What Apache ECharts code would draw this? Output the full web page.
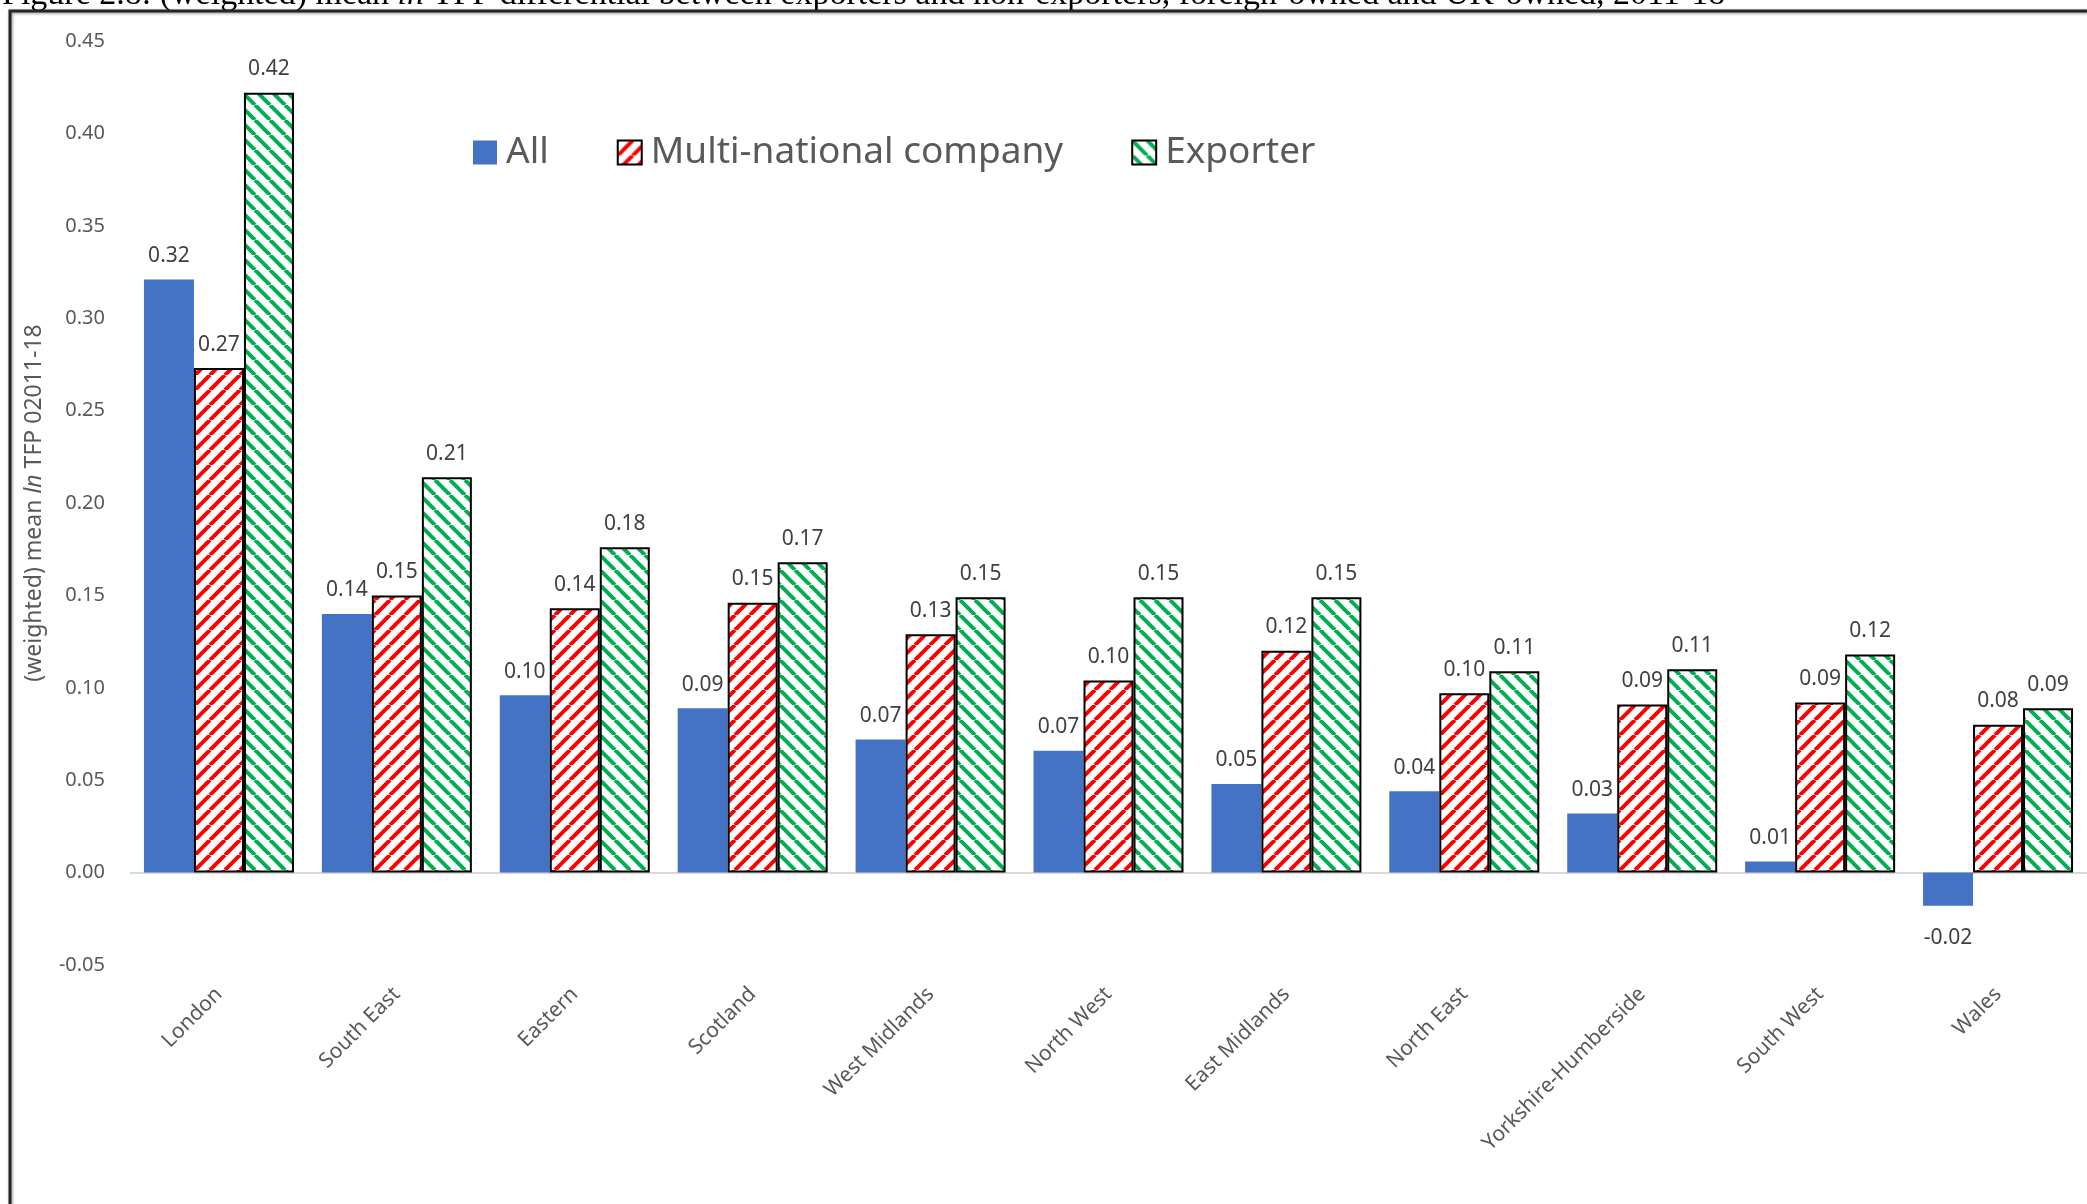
<!DOCTYPE html>
<html>
<head>
<meta charset="utf-8">
<title>Regional TFP differential</title>
<script src="https://cdn.jsdelivr.net/npm/echarts@6/dist/echarts.min.js"></script>
<style>
  html, body { margin: 0; padding: 0; background: #ffffff; }
  #chart { width: 2087px; height: 1204px; }
</style>
</head>
<body>
<div id="chart"></div>
<script>
// Regions, ordered by the size of the "All" differential
const categories = ['London', 'South East', 'Eastern', 'Scotland', 'West Midlands', 'North West',
  'East Midlands', 'North East', 'Yorkshire-Humberside', 'South West', 'Wales'];

// (weighted) mean ln TFP differential, 2011-18
const allFirms      = [0.321, 0.140, 0.096, 0.089, 0.072, 0.066, 0.048, 0.044, 0.032, 0.006, -0.018];
const multinational = [0.273, 0.150, 0.143, 0.146, 0.129, 0.104, 0.120, 0.097, 0.091, 0.092, 0.080];
const exporter      = [0.422, 0.214, 0.176, 0.168, 0.149, 0.149, 0.149, 0.109, 0.110, 0.118, 0.089];

const seriesNames = ['All', 'Multi-national company', 'Exporter'];

// y-axis scale
const yMin = -0.05;
const yMax = 0.45;
const yStep = 0.05;

const FONT = '"Noto Sans", "Open Sans", sans-serif';
const SERIF = '"Liberation Serif", "DejaVu Serif", serif';
const GREY = '#595959';
const LABEL_GREY = '#404040';

// Diagonal hatch tile: '/' rises to the right, '\' falls to the right
function hatch(color, rising) {
  const s = 15;
  const c = document.createElement('canvas');
  c.width = s; c.height = s;
  const g = c.getContext('2d');
  g.fillStyle = '#ffffff';
  g.fillRect(0, 0, s, s);
  g.strokeStyle = color;
  g.lineWidth = 4;
  g.beginPath();
  for (let k = -1; k <= 1; k++) {
    if (rising) {
      g.moveTo(k * s, s); g.lineTo(k * s + s, 0);
    } else {
      g.moveTo(k * s, 0); g.lineTo(k * s + s, s);
    }
  }
  g.stroke();
  return { image: c, repeat: 'repeat' };
}

const redHatch = hatch('#ff0000', true);
const greenHatch = hatch('#00b050', false);

const valueLabel = {
  show: true,
  position: 'outside',
  distance: 13,
  fontFamily: FONT,
  fontSize: 21,
  color: LABEL_GREY,
  formatter: p => p.value.toFixed(2)
};

// Negative bars carry their value label a little further below the bar end
function withLabelOffsets(values) {
  return values.map(v => (v < 0 ? { value: v, label: { distance: 22 } } : v));
}

const chart = echarts.init(document.getElementById('chart'), null, { renderer: 'canvas' });

chart.setOption({
  backgroundColor: '#ffffff',
  animation: false,
  textStyle: { fontFamily: FONT },
  graphic: [
    {
      type: 'text',
      left: 2,
      top: -22,
      silent: true,
      style: {
        text: '{r|Figure 2.8: (weighted) mean }{i|ln}{r| TFP differential between exporters and non-exporters, foreign-owned and UK-owned, 2011-18}',
        rich: {
          r: { fontFamily: SERIF, fontSize: 34, fill: '#000' },
          i: { fontFamily: SERIF, fontSize: 34, fontStyle: 'italic', fill: '#000' }
        }
      }
    },
    {
      type: 'polyline',
      silent: true,
      shape: { points: [[10, 1204], [10, 11], [2087, 11]] },
      style: {
        stroke: '#262626',
        lineWidth: 3,
        fill: null,
        shadowBlur: 3,
        shadowColor: 'rgba(0,0,0,0.45)',
        shadowOffsetX: 1,
        shadowOffsetY: 1
      }
    }
  ],
  legend: {
    left: 468,
    top: 129,
    icon: 'rect',
    itemWidth: 24,
    itemHeight: 24,
    itemGap: 68,
    textStyle: { fontFamily: FONT, fontSize: 37, color: GREY, padding: [0, 0, 0, 4] },
    data: seriesNames
  },
  grid: {
    left: 130,
    right: 0,
    top: 41,
    bottom: 239,
    containLabel: false
  },
  xAxis: {
    type: 'category',
    data: categories,
    axisLine: { show: false },
    axisTick: { show: false },
    axisLabel: {
      interval: 0,
      rotate: 45,
      margin: 26,
      fontFamily: FONT,
      fontSize: 21,
      color: GREY
    }
  },
  yAxis: {
    type: 'value',
    min: yMin,
    max: yMax,
    interval: yStep,
    axisLine: { show: false },
    axisTick: { show: false },
    splitLine: { show: false },
    axisLabel: {
      margin: 25,
      fontFamily: FONT,
      fontSize: 20,
      color: GREY,
      formatter: v => v.toFixed(2)
    },
    name: '{a|(weighted) mean }{i|ln}{a| TFP 02011-18}',
    nameLocation: 'middle',
    nameRotate: 90,
    nameGap: 84,
    nameTextStyle: {
      rich: {
        a: { fontFamily: FONT, fontSize: 23, color: GREY },
        i: { fontFamily: FONT, fontSize: 23, color: GREY, fontStyle: 'italic' }
      }
    }
  },
  series: [
    {
      name: seriesNames[0],
      type: 'bar',
      data: withLabelOffsets(allFirms),
      barWidth: 50,
      barGap: '0%',
      itemStyle: { color: '#4472c4' },
      label: valueLabel,
      markLine: {
        silent: true,
        z: 1,
        symbol: 'none',
        label: { show: false },
        lineStyle: { color: '#d9d9d9', width: 2, type: 'solid' },
        data: [{ yAxis: 0 }]
      }
    },
    {
      name: seriesNames[1],
      type: 'bar',
      data: withLabelOffsets(multinational),
      barWidth: 50,
      barGap: '0%',
      itemStyle: { color: redHatch, borderColor: '#000000', borderWidth: 2 },
      label: valueLabel
    },
    {
      name: seriesNames[2],
      type: 'bar',
      data: withLabelOffsets(exporter),
      barWidth: 50,
      barGap: '0%',
      itemStyle: { color: greenHatch, borderColor: '#000000', borderWidth: 2 },
      label: valueLabel
    }
  ]
});
</script>
</body>
</html>
